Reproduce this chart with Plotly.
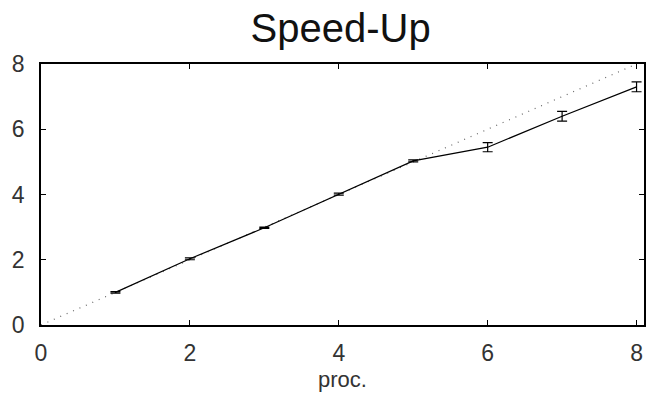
import plotly.graph_objects as go

procs = [1, 2, 3, 4, 5, 6, 7, 8]
speedup = [1.0, 2.03, 2.98, 4.01, 5.03, 5.45, 6.4, 7.3]
err = [0.02, 0.03, 0.02, 0.03, 0.03, 0.14, 0.15, 0.15]
ideal_x = [0, 8]
ideal_y = [0, 8]
ticks = [0, 2, 4, 6, 8]

FONT = "Liberation Sans, Arial"

fig = go.Figure()
fig.add_trace(go.Scatter(x=ideal_x, y=ideal_y, mode="lines",
                         line=dict(color="#666", width=1.2, dash="1px,6px"),
                         showlegend=False))
fig.add_trace(go.Scatter(x=procs, y=speedup, mode="lines",
                         line=dict(color="black", width=1.2),
                         error_y=dict(type="data", array=err, color="black",
                                      thickness=1.2, width=5),
                         showlegend=False))

axis_common = dict(showgrid=False, zeroline=False, showline=True, linecolor="black",
                   linewidth=1.5, mirror="ticks", ticks="inside", ticklen=5,
                   tickcolor="black", tickwidth=1,
                   tickfont=dict(family=FONT, size=23, color="#333"),
                   tickvals=ticks)
fig.update_xaxes(range=[0, 8.1], ticklabelstandoff=7,
                 title=dict(text="proc.", standoff=6,
                            font=dict(family=FONT, size=22, color="#333")),
                 **axis_common)
fig.update_yaxes(range=[0, 8], ticklabelstandoff=10, **axis_common)
fig.update_layout(
    width=655, height=399,
    margin=dict(l=41, r=9, t=64, b=74),
    paper_bgcolor="white", plot_bgcolor="white",
    title=dict(text="Speed-Up", x=0.52, xanchor="center", y=0.93, yanchor="middle",
               font=dict(family=FONT, size=40, color="#111")),
)
fig.write_html("out.html")
